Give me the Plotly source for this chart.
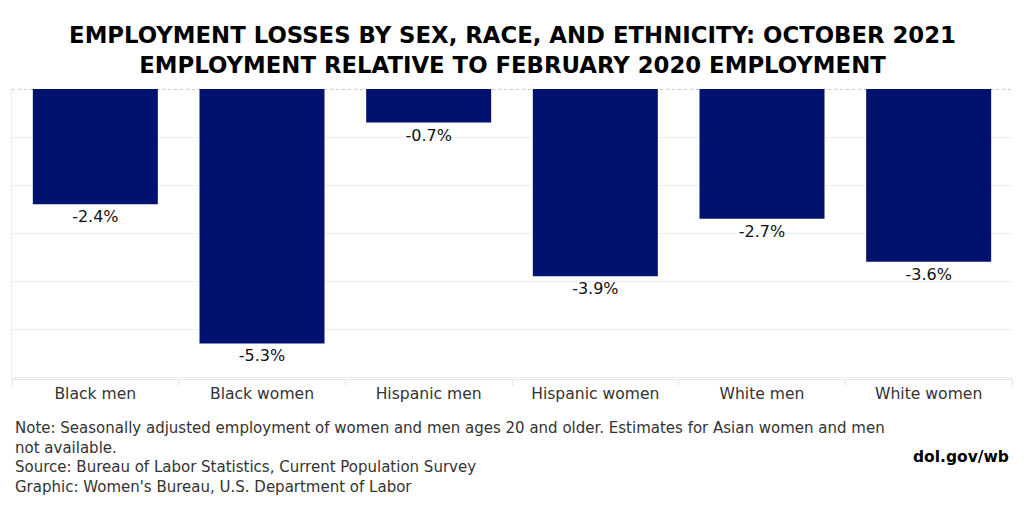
import plotly.graph_objects as go

categories = ["Black men", "Black women", "Hispanic men", "Hispanic women", "White men", "White women"]
values = [-2.4, -5.3, -0.7, -3.9, -2.7, -3.6]
labels = ["-2.4%", "-5.3%", "-0.7%", "-3.9%", "-2.7%", "-3.6%"]
title_lines = ["EMPLOYMENT LOSSES BY SEX, RACE, AND ETHNICITY: OCTOBER 2021",
               "EMPLOYMENT RELATIVE TO FEBRUARY 2020 EMPLOYMENT"]
note_lines = ["Note: Seasonally adjusted employment of women and men ages 20 and older. Estimates for Asian women and men",
              "not available.",
              "Source: Bureau of Labor Statistics, Current Population Survey",
              "Graphic: Women's Bureau, U.S. Department of Labor"]

FONT = "DejaVu Sans"

fig = go.Figure()
fig.add_trace(go.Bar(
    x=categories, y=values, text=labels, textposition="outside",
    textfont=dict(family=FONT, size=16, color="#111"),
    marker=dict(color="#00126e", line=dict(width=0)),
    width=0.75, cliponaxis=False, hoverinfo="skip",
))

fig.update_layout(
    width=1016, height=504,
    margin=dict(l=4, r=12, t=81, b=133),
    plot_bgcolor="white", paper_bgcolor="white",
    showlegend=False,
    font=dict(family=FONT),
    title=dict(text="<b>" + "<br>".join(title_lines) + "</b>",
               x=0.4966, xanchor="center", y=0.93, yanchor="top",
               font=dict(family=FONT, size=22.8, color="black")),
    xaxis=dict(showgrid=False, ticks="outside", tickson="boundaries", ticklen=6,
               tickcolor="#e6e6e6", showline=True, linecolor="#e6e6e6",
               tickfont=dict(family=FONT, size=15.6, color="#333")),
    yaxis=dict(range=[-6.04, 0], dtick=1, showgrid=True, gridcolor="#eeeeee",
               showticklabels=False, zeroline=False, showline=True,
               linecolor="#eeeeee", mirror=False),
    bargap=0.25,
)

fig.add_shape(type="line", xref="paper", yref="y", x0=0, x1=1, y0=0, y1=0,
              line=dict(color="#bbbbbb", width=1.5, dash="dot"), layer="below")

fig.add_annotation(text="<br>".join(note_lines), xref="paper", yref="paper",
                   x=0.001, y=-0.13, xanchor="left", yanchor="top", align="left",
                   showarrow=False, font=dict(family=FONT, size=15, color="#333"))
fig.add_annotation(text="<b>dol.gov/wb</b>", xref="paper", yref="paper",
                   x=0.999, y=-0.269, xanchor="right", yanchor="middle",
                   showarrow=False, font=dict(family=FONT, size=15.5, color="black"))

fig.write_html("out.html")
